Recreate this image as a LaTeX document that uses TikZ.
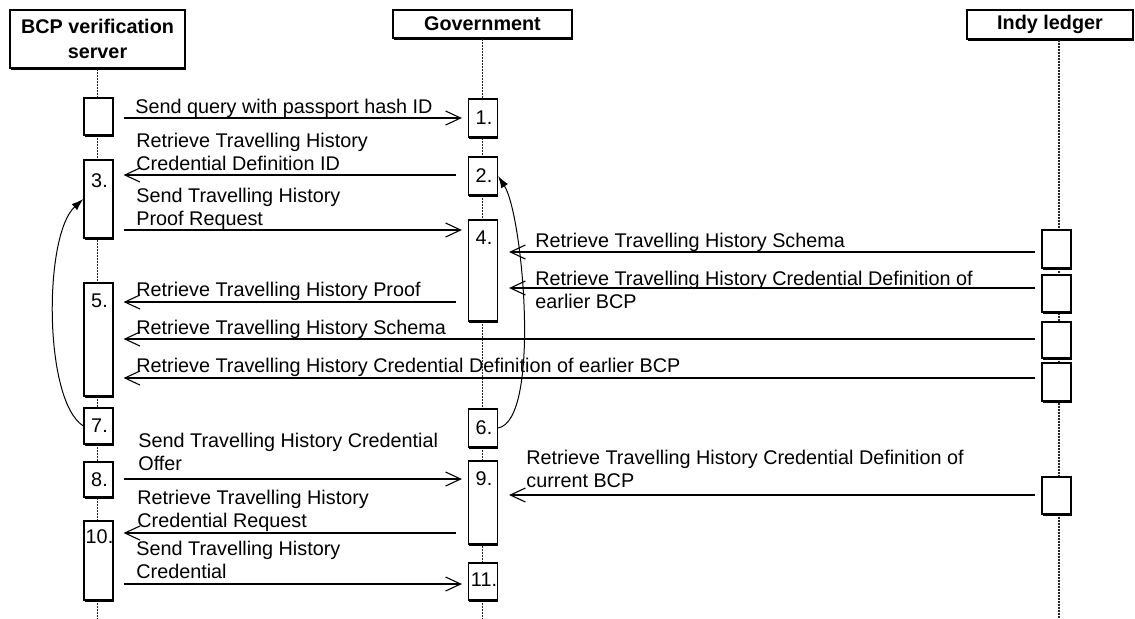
\documentclass[tikz,border=0pt]{standalone}
\usepackage{fontspec}
\setmainfont{Liberation Sans}
\usetikzlibrary{arrows.meta,shadows,calc}
\begin{document}
\begin{tikzpicture}[x=0.5pt,y=-0.5pt,
  font=\fontsize{9.9}{11.5}\selectfont,
  shad/.style={drop shadow={shadow xshift=0.4pt,shadow yshift=-0.9pt,fill=black,opacity=1}},
  head/.style={draw,fill=white,line width=0.6pt,font=\fontsize{9.9}{12.5}\selectfont\bfseries,inner sep=0pt,align=center,shad},
  act/.style={draw,fill=white,line width=0.6pt,minimum width=14.5pt,inner sep=0pt,shad},
  num/.style={inner sep=0pt},
  life/.style={line width=0.7pt,dash pattern=on 1pt off 0.5pt,black!85},
  msg/.style={line width=0.7pt,-{Straight Barb[length=7.5pt,width=7pt,line width=0.55pt]}},
  lbl/.style={anchor=base west,inner sep=0pt,align=left},
  curv/.style={line width=0.5pt,-{Latex[length=6pt,width=4pt]}}]
\useasboundingbox (0,0) rectangle (1135,618);
\fill[white] (0,0) rectangle (1135,618);
\coordinate (bot) at (0,618);
% headers
\node[head,minimum width=87.5pt,minimum height=29pt] (hb) at (97.5,39) {BCP verification\\server};
\node[head,minimum width=89.5pt,minimum height=14pt] (hg) at (482.5,24) {Government};
\node[head,minimum width=83pt,minimum height=14.5pt] (hi) at (1050,24.5) {Indy ledger};
% lifelines
\coordinate (lb) at (hb.south);
\coordinate (lg) at (hg.south);
\coordinate (li) at ($(hi.south)+(9,0)$);
\draw[life] (lb) -- (lb |- bot);
\draw[life] (lg) -- (lg |- bot);
\draw[life] (li) -- (li |- bot);
% BCP activations
\node[act,minimum height=18.5pt] (bA) at (98.5,116.5) {};
\node[act,minimum height=39pt] (b3) at (98.5,199) {};
\node[act,minimum height=56.5pt] (b5) at (98.5,339.5) {};
\node[act,minimum height=18pt] (b7) at (98.5,426) {};
\node[act,minimum height=17.5pt] (b8) at (98.5,479.5) {};
\node[act,minimum height=39.5pt] (b10) at (98.5,560.5) {};
% Government activations
\node[act,minimum height=19pt] (g1) at (483,118) {};
\node[act,minimum height=19pt] (g2) at (483,176) {};
\node[act,minimum height=50.5pt] (g4) at (483,270.5) {};
\node[act,minimum height=19pt] (g6) at (483,428) {};
\node[act,minimum height=41.5pt] (g9) at (483,502.5) {};
\node[act,minimum height=18.5pt] (g11) at (483,581.5) {};
% Indy activations
\node[act,minimum height=19pt] (i1) at (1056.5,249) {};
\node[act,minimum height=18.5pt] (i2) at (1056.5,293.5) {};
\node[act,minimum height=18pt] (i3) at (1056.5,340) {};
\node[act,minimum height=19pt] (i4) at (1056.5,382) {};
\node[act,minimum height=18.5pt] (i5) at (1056.5,495.5) {};
% numbers
\node[num] (n1) at ($(g1.north)+(1,19)$) {1.};
\node[num] (n2) at ($(g2.north)+(1,19)$) {2.};
\node[num] (n3) at ($(b3.north)+(1,21)$) {3.};
\node[num] (n4) at ($(g4.north)+(1,18)$) {4.};
\node[num] (n5) at ($(b5.north)+(1,18)$) {5.};
\node[num] (n6) at ($(g6.north)+(1,19)$) {6.};
\node[num] (n7) at ($(b7.north)+(1,18)$) {7.};
\node[num] (n8) at ($(b8.north)+(1,18)$) {8.};
\node[num] (n9) at ($(g9.north)+(1,18)$) {9.};
\node[num] (n10) at ($(b10.north)+(1,16)$) {10.};
\node[num] (n11) at ($(g11.north)+(1,17)$) {11.};
% messages
\draw[msg] ($(bA.east |- 0,118)+(10,0)$) -- ($(g1.west |- 0,118)+(-6,0)$);
\draw[msg] ($(g2.west |- 0,175)+(-12,0)$) -- ($(b3.east |- 0,175)+(10,0)$);
\draw[msg] ($(b3.east |- 0,230)+(10,0)$) -- ($(g4.west |- 0,230)+(-6,0)$);
\draw[msg] ($(i1.west |- 0,252)+(-6,0)$) -- ($(g4.east |- 0,252)+(11,0)$);
\draw[msg] ($(i2.west |- 0,288)+(-6,0)$) -- ($(g4.east |- 0,288)+(11,0)$);
\draw[msg] ($(g4.west |- 0,302)+(-12,0)$) -- ($(b5.east |- 0,302)+(10,0)$);
\draw[msg] ($(i3.west |- 0,339)+(-6,0)$) -- ($(b5.east |- 0,339)+(10,0)$);
\draw[msg] ($(i4.west |- 0,378)+(-6,0)$) -- ($(b5.east |- 0,378)+(10,0)$);
\draw[msg] ($(b8.east |- 0,479)+(10,0)$) -- ($(g9.west |- 0,479)+(-6,0)$);
\draw[msg] ($(i5.west |- 0,495)+(-6,0)$) -- ($(g9.east |- 0,495)+(11,0)$);
\draw[msg] ($(g9.west |- 0,533)+(-12,0)$) -- ($(b10.east |- 0,533)+(10,0)$);
\draw[msg] ($(b10.east |- 0,584)+(10,0)$) -- ($(g11.west |- 0,584)+(-6,0)$);
% labels (base = baseline of last line)
\node[lbl] (l1) at (135,113) {Send query with passport hash ID};
\node[lbl] (l2) at (136,170) {Retrieve Travelling History\\Credential Definition ID};
\node[lbl] (l3) at (136,225) {Send Travelling History\\Proof Request};
\node[lbl] (l4) at (535,247) {Retrieve Travelling History Schema};
\node[lbl] (l5) at (535,308) {Retrieve Travelling History Credential Definition of\\earlier BCP};
\node[lbl] (l6) at (136,296) {Retrieve Travelling History Proof};
\node[lbl] (l7) at (136,334) {Retrieve Travelling History Schema};
\node[lbl] (l8) at (136,372) {Retrieve Travelling History Credential Definition of earlier BCP};
\node[lbl] (l11) at (138,470) {Send Travelling History Credential\\Offer};
\node[lbl] (l12) at (526,487) {Retrieve Travelling History Credential Definition of\\current BCP};
\node[lbl] (l13) at (137,527) {Retrieve Travelling History\\Credential Request};
\node[lbl] (l14) at (136,578) {Send Travelling History\\Credential};
% curved returns
\draw[curv] (b7.west) .. controls +(-40,-25) and +(-40,36) .. (b3.west);
\draw[curv] (g6.east) .. controls +(43,-8) and +(25,39) .. (g2.east);
\end{tikzpicture}
\end{document}
